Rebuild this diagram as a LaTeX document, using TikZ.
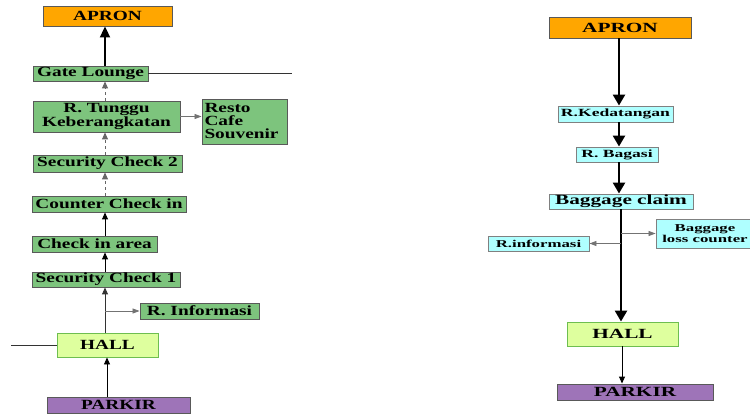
\documentclass[tikz,border=0pt]{standalone}
\usepackage{fontspec}
\newfontfamily\lf{Liberation Serif}[FakeStretch=1.38]
\newfontfamily\rf{Liberation Serif}[FakeStretch=1.52]
\newfontfamily\rs{Liberation Serif}[FakeStretch=1.6]
\usetikzlibrary{arrows.meta}
\definecolor{grn}{RGB}{125,196,125}
\definecolor{org}{RGB}{255,166,0}
\definecolor{hallc}{RGB}{222,255,158}
\definecolor{hallb}{RGB}{110,190,80}
\definecolor{pur}{RGB}{158,116,184}
\definecolor{cyn}{RGB}{175,255,255}
\begin{document}
\begin{tikzpicture}[x=1pt,y=-1pt,
  box/.style={draw=black!65, line width=0.9pt, inner sep=0pt, text=black},
  lbox/.style={box, fill=grn, font={\lf\bfseries\fontsize{14}{14}\selectfont}},
  rbig/.style={box, font={\rf\bfseries\fontsize{14}{14}\selectfont}},
  rsmall/.style={box, fill=cyn, draw=black!50, font={\rs\bfseries\fontsize{11}{11}\selectfont}},
  thinarr/.style={-{Triangle[length=7pt,width=6pt]}, line width=0.9pt},
  grayarr/.style={-{Triangle[length=7pt,width=5pt]}, line width=0.8pt, draw=black!55},
  dasharr/.style={thinarr, dashed, draw=black!60},
  thickL/.style={-{Triangle[length=11pt,width=10pt]}, line width=2pt},
  thickR/.style={-{Triangle[length=11pt,width=12pt]}, line width=2.5pt}]
\useasboundingbox (0,0) rectangle (750,414);
% ---------- left column ----------
\coordinate (lc) at (105,0);
\coordinate (lc2) at (107,0);
\node[box, fill=org, minimum width=129pt, minimum height=20pt,
      font={\lf\bfseries\fontsize{14}{14}\selectfont}] (apronL) at (107.5,16) {APRON};
\node[lbox, minimum width=115pt, minimum height=15pt] (gate) at (90.5,73.5) {Gate Lounge};
\node[lbox, minimum width=147pt, minimum height=31pt, align=center] (tunggu) at (106.5,116.5)
  {R. Tunggu\\[-0.5pt]Keberangkatan};
\node[lbox, minimum width=85pt, minimum height=45pt, align=left, text width=80pt] (resto) at (244.5,121.5)
  {Resto\\[-1pt]Cafe\\[-1pt]Souvenir};
\node[lbox, minimum width=149pt, minimum height=17pt] (sec2) at (107.5,163.5) {Security Check 2};
\node[lbox, minimum width=154pt, minimum height=16pt] (counter) at (109,204) {Counter Check in};
\node[lbox, minimum width=125pt, minimum height=16pt] (carea) at (94.5,244) {Check in area};
\node[lbox, minimum width=148pt, minimum height=15pt] (sec1) at (106,279.5) {Security Check 1};
\node[lbox, minimum width=119pt, minimum height=16pt] (rinfo) at (199.5,311) {R. Informasi};
\node[box, fill=hallc, draw=hallb, minimum width=101pt, minimum height=24pt,
      font={\lf\bfseries\fontsize{14}{14}\selectfont}] (hallL) at (107.5,345) {HALL};
\node[box, fill=pur, minimum width=143pt, minimum height=16pt,
      font={\lf\bfseries\fontsize{14}{14}\selectfont}] (parkirL) at (118.5,405) {PARKIR};
\coordinate (gateEnd) at (292,73.5);
\coordinate (hallW) at (11,345);

\draw[thickL] (gate.north -| lc) -- (apronL.south -| lc);
\draw[line width=1pt, draw=black!80] (gate.east) -- (gateEnd);
\draw[dasharr] (tunggu.north -| lc) -- (gate.south -| lc);
\draw[grayarr] (tunggu.east) -- (resto.west |- tunggu.east);
\draw[dasharr] (sec2.north -| lc) -- (tunggu.south -| lc);
\draw[dasharr] (counter.north -| lc) -- (sec2.south -| lc);
\draw[thinarr] (carea.north -| lc) -- (counter.south -| lc);
\draw[thinarr] (sec1.north -| lc) -- (carea.south -| lc);
\draw[thinarr, draw=black!80] (hallL.north -| lc) -- (sec1.south -| lc);
\draw[grayarr] (rinfo.west -| lc) -- (rinfo.west);
\draw[line width=1pt, draw=black!80] (hallW) -- (hallL.west);
\draw[thinarr] (parkirL.north -| lc2) -- (hallL.south -| lc2);
% ---------- right column ----------
\coordinate (rc) at (619,0);
\coordinate (rc2) at (621,0);
\coordinate (rc3) at (622,0);
\node[rbig, fill=org, minimum width=142pt, minimum height=21pt] (apronR) at (620,27.5) {APRON};
\node[rsmall, minimum width=115pt, minimum height=16pt] (kedat) at (615.5,114) {R.Kedatangan};
\node[rsmall, minimum width=82pt, minimum height=15pt] (bagasi) at (617,154.5) {R. Bagasi};
\node[rbig, fill=cyn, draw=black!50, minimum width=144pt, minimum height=15pt] (claim) at (621,201.5) {Baggage claim};
\node[rsmall, minimum width=98pt, minimum height=29pt, align=center,
      font={\rs\bfseries\fontsize{10.5}{10.5}\selectfont}] (loss) at (705,233.5)
  {Baggage\\loss counter};
\node[rsmall, minimum width=101pt, minimum height=15pt,
      font={\rs\bfseries\fontsize{10.5}{10.5}\selectfont}] (rinfoR) at (538.5,243.5) {R.informasi};
\node[rbig, fill=hallc, draw=hallb, minimum width=111pt, minimum height=24pt] (hallR) at (622.5,334) {HALL};
\node[rbig, fill=pur, minimum width=156pt, minimum height=16pt] (parkirR) at (635,392) {PARKIR};

\draw[thickR] (apronR.south -| rc) -- (kedat.north -| rc);
\draw[thickR] (kedat.south -| rc) -- (bagasi.north -| rc);
\draw[thickR] (bagasi.south -| rc) -- (claim.north -| rc);
\draw[thickR] (claim.south -| rc2) -- (hallR.north -| rc2);
\draw[grayarr] (loss.west -| rc2) -- (loss.west);
\draw[grayarr] (rinfoR.east -| rc2) -- (rinfoR.east);
\draw[thinarr] (hallR.south -| rc3) -- (parkirR.north -| rc3);
\end{tikzpicture}
\end{document}
